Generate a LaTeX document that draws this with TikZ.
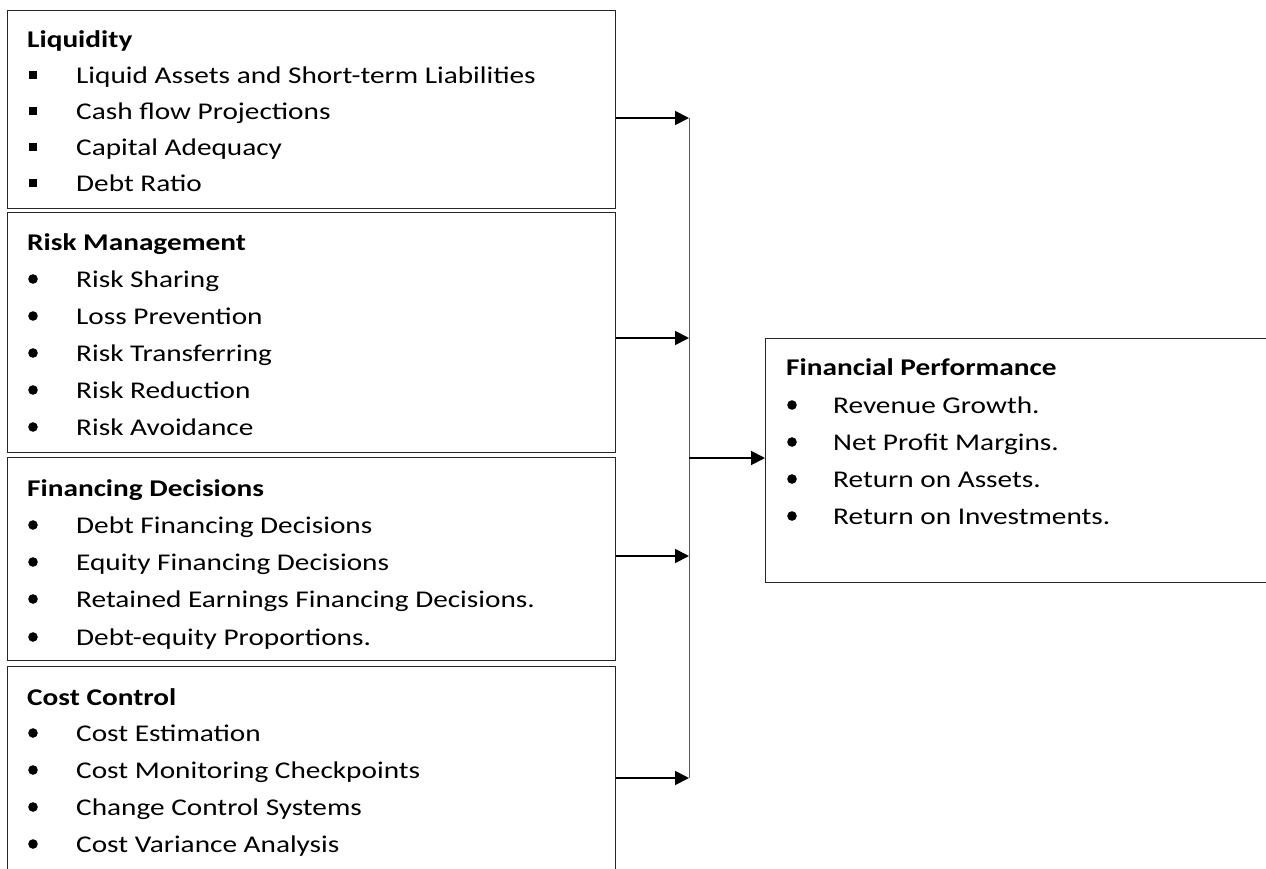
\documentclass[tikz,border=0pt]{standalone}
\usepackage{fontspec}
\setmainfont{Carlito}[FakeStretch=1.22]
\usetikzlibrary{arrows.meta}
\begin{document}
\begin{tikzpicture}[x=1pt,y=-1pt,
  box/.style={draw=black!85, line width=0.9pt, rectangle, inner sep=0pt, anchor=north west},
  txt/.style={anchor=base west, inner sep=0pt, font=\fontsize{24}{28}\selectfont},
  hd/.style={anchor=base west, inner sep=0pt, font=\fontsize{24}{28}\selectfont\bfseries},
  link/.style={line width=1.8pt, -{Triangle[length=14pt,width=14pt]}},
  trunk/.style={draw=black!65, line width=1pt}]
\useasboundingbox (0,0) rectangle (1266,868);
% boxes
\node[box, minimum width=608pt, minimum height=198pt] (liq) at (7,10) {};
\node[box, minimum width=608pt, minimum height=240pt] (risk) at (7,212) {};
\node[box, minimum width=608pt, minimum height=203pt] (fin) at (7,457) {};
\node[box, minimum width=608pt, minimum height=215pt] (cost) at (7,666) {};
\node[box, minimum width=520pt, minimum height=244pt] (perf) at (765,338) {};
% Liquidity
\node[hd] (liqh) at (27,47) {Liquidity};
\foreach \b/\t [count=\i] in {83/Liquid Assets and Short-term Liabilities,119/Cash flow Projections,155/Capital Adequacy,191/Debt Ratio}{
  \fill (29,\b-12) rectangle (37,\b-4);
  \node[txt] (liq\i) at (76,\b) {\t};
}
% Risk Management
\node[hd] (riskh) at (27,250) {Risk Management};
\foreach \b/\t [count=\i] in {287/Risk Sharing,324/Loss Prevention,361/Risk Transferring,398/Risk Reduction,435/Risk Avoidance}{
  \fill (33,\b-8) circle (4.8pt);
  \node[txt] (risk\i) at (76,\b) {\t};
}
% Financing Decisions
\node[hd] (finh) at (27,496) {Financing Decisions};
\foreach \b/\t [count=\i] in {533/Debt Financing Decisions,570/Equity Financing Decisions,607/Retained Earnings Financing Decisions.,645/Debt-equity Proportions.}{
  \fill (33,\b-8) circle (4.8pt);
  \node[txt] (fin\i) at (76,\b) {\t};
}
% Cost Control
\node[hd] (costh) at (27,705) {Cost Control};
\foreach \b/\t [count=\i] in {741/Cost Estimation,778/Cost Monitoring Checkpoints,815/Change Control Systems,852/Cost Variance Analysis}{
  \fill (33,\b-8) circle (4.8pt);
  \node[txt] (cost\i) at (76,\b) {\t};
}
% Financial Performance
\node[hd] (perfh) at (786,375) {Financial Performance};
\foreach \b/\t [count=\i] in {413/Revenue Growth.,450/Net Profit Margins.,487/Return on Assets.,524/Return on Investments.}{
  \fill (792,\b-8) circle (4.8pt);
  \node[txt] (perf\i) at (833,\b) {\t};
}
% connectors
\coordinate (j1) at (689,118);
\coordinate (j2) at (689,338);
\coordinate (j3) at (689,556);
\coordinate (j4) at (689,778);
\coordinate (jc) at (689,458);
\draw[trunk] (j1) -- (j4);
\draw[link] (liq.east |- j1) -- (j1);
\draw[link] (risk.east |- j2) -- (j2);
\draw[link] (fin.east |- j3) -- (j3);
\draw[link] (cost.east |- j4) -- (j4);
\draw[link] (jc) -- (perf.west |- jc);
\end{tikzpicture}
\end{document}
